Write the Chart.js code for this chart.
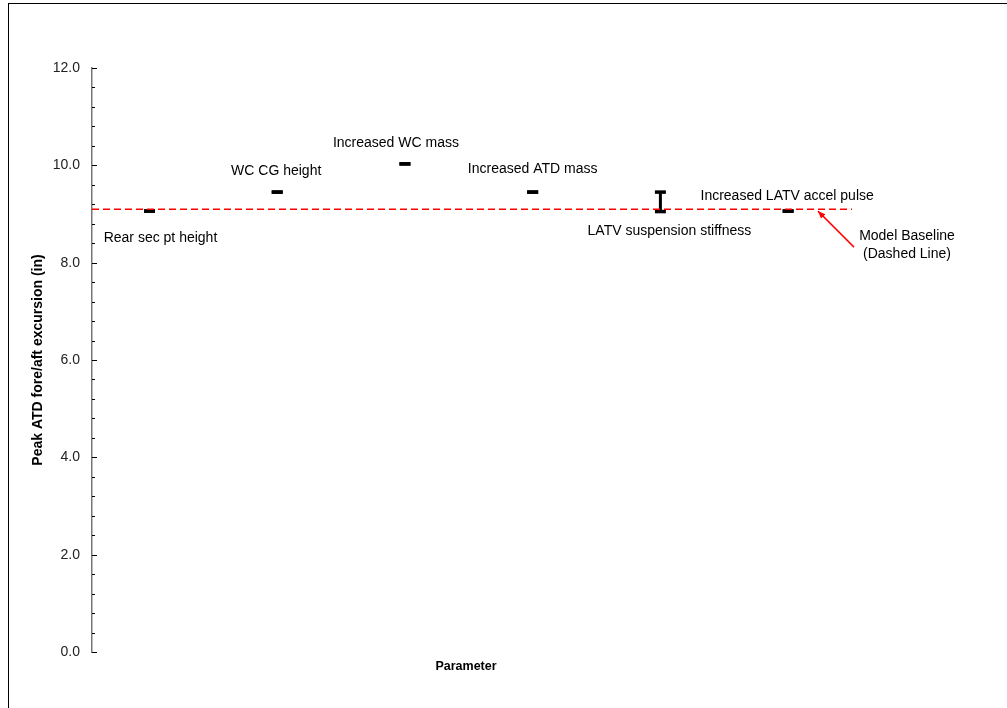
<!DOCTYPE html>
<html>
<head>
<meta charset="utf-8">
<script src="https://cdn.jsdelivr.net/npm/chart.js@4/dist/chart.umd.min.js"></script>
<style>
  html, body { margin: 0; padding: 0; background: #fff; }
  #wrap { width: 1007px; height: 708px; }
</style>
</head>
<body>
<div id="wrap"><canvas id="chart" width="1007" height="708"></canvas></div>
<script>
// parameters studied and the peak excursion for each (in)
const parameters = ['Rear sec pt height', 'WC CG height', 'Increased WC mass',
  'Increased ATD mass', 'LATV suspension stiffness', 'Increased LATV accel pulse'];
const paramIndex = [1, 2, 3, 4, 5, 6];
const peakLow = [9.06, 9.45, 10.03, 9.45, 9.05, 9.06];
const peakHigh = [9.06, 9.45, 10.03, 9.45, 9.45, 9.06];
const baseline = 9.1;
const yTicks = [0, 2, 4, 6, 8, 10, 12];

// label placement, pixel offsets from the (low) point
const labelOffsets = [[11, 27], [-1, -21], [-9, -21], [0, -23], [9, 20], [-1, -15]];

const FONT = '"Liberation Sans", Arial, sans-serif';

// one dataset per parameter: vertical range with flat caps
const rangeSets = paramIndex.map((x, i) => ({
  type: 'line',
  data: [{ x: x, y: peakLow[i] }, { x: x, y: peakHigh[i] }],
  borderColor: '#000',
  borderWidth: 3,
  pointStyle: 'line',
  pointRadius: 5.5,
  pointBorderWidth: 3.5,
  pointBorderColor: '#000',
  showLine: true,
  fill: false
}));

const xMin = 0.55, xMax = 6.5;

const extras = {
  id: 'extras',
  afterDraw(chart) {
    const ctx = chart.ctx;
    const x = chart.scales.x, y = chart.scales.y;
    ctx.save();
    // outer frame
    ctx.strokeStyle = '#000';
    ctx.lineWidth = 1;
    ctx.strokeRect(8.5, 3.5, 1010, 720);

    // minor + major ticks pointing inward
    ctx.strokeStyle = '#000';
    for (let v = 0; v <= 12.0001; v += 0.4) {
      const py = Math.round(y.getPixelForValue(v)) + 0.5;
      const major = Math.abs(v / 2 - Math.round(v / 2)) < 1e-6;
      ctx.beginPath();
      ctx.moveTo(chart.chartArea.left, py);
      ctx.lineTo(chart.chartArea.left + (major ? 5 : 3), py);
      ctx.stroke();
    }

    // point labels
    ctx.fillStyle = '#000';
    ctx.font = '14px ' + FONT;
    ctx.textAlign = 'center';
    ctx.textBaseline = 'middle';
    parameters.forEach((p, i) => {
      const px = x.getPixelForValue(paramIndex[i]);
      const py = y.getPixelForValue(peakLow[i]);
      ctx.fillText(p, px + labelOffsets[i][0], py + labelOffsets[i][1]);
    });

    // baseline note + arrow
    const bx = x.getPixelForValue(xMax), by = y.getPixelForValue(baseline);
    ctx.fillText('Model Baseline', bx + 55, by + 27);
    ctx.fillText('(Dashed Line)', bx + 55, by + 45);
    const tipX = bx - 34, tipY = by + 2;
    const tailX = bx + 2, tailY = by + 38;
    ctx.strokeStyle = '#ff0000';
    ctx.fillStyle = '#ff0000';
    ctx.lineWidth = 1.5;
    ctx.beginPath();
    ctx.moveTo(tailX, tailY);
    ctx.lineTo(tipX, tipY);
    ctx.stroke();
    const ang = Math.atan2(tipY - tailY, tipX - tailX);
    ctx.beginPath();
    ctx.moveTo(tipX, tipY);
    ctx.lineTo(tipX - 8 * Math.cos(ang - 0.4), tipY - 8 * Math.sin(ang - 0.4));
    ctx.lineTo(tipX - 8 * Math.cos(ang + 0.4), tipY - 8 * Math.sin(ang + 0.4));
    ctx.closePath();
    ctx.fill();

    // axis titles
    ctx.fillStyle = '#000';
    ctx.font = 'bold 12.5px ' + FONT;
    ctx.fillText('Parameter', 466, 667);
    ctx.font = 'bold 14px ' + FONT;
    ctx.translate(38, (chart.chartArea.top + chart.chartArea.bottom) / 2);
    ctx.rotate(-Math.PI / 2);
    ctx.fillText('Peak ATD fore/aft excursion (in)', 0, 0);
    ctx.restore();
  }
};

new Chart(document.getElementById('chart'), {
  type: 'scatter',
  data: {
    datasets: [
      {
        type: 'line',
        data: [{ x: xMin, y: baseline }, { x: xMax, y: baseline }],
        borderColor: '#ff0000',
        borderWidth: 1.5,
        borderDash: [7, 4],
        pointRadius: 0,
        fill: false
      },
      ...rangeSets
    ]
  },
  options: {
    responsive: false,
    animation: false,
    layout: { padding: { left: 0, right: 155, top: 68, bottom: 56 } },
    plugins: { legend: { display: false }, tooltip: { enabled: false } },
    scales: {
      x: {
        type: 'linear',
        min: xMin,
        max: xMax,
        display: false
      },
      y: {
        type: 'linear',
        min: 0,
        max: 12,
        afterFit(scale) { scale.width = 92; },
        afterBuildTicks(scale) { scale.ticks = yTicks.map(v => ({ value: v })); },
        grid: { display: false, drawTicks: false },
        border: { display: true, color: '#777', width: 1.5 },
        ticks: {
          padding: 12,
          color: '#222',
          font: { family: FONT, size: 14 },
          callback: v => v.toFixed(1)
        }
      }
    }
  },
  plugins: [extras]
});
</script>
</body>
</html>
